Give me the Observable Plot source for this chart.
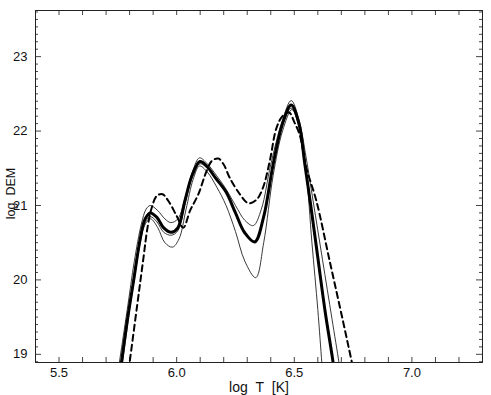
<!DOCTYPE html>
<html>
<head>
<meta charset="utf-8">
<script src="https://cdn.jsdelivr.net/npm/d3@7"></script>
<script src="https://cdn.jsdelivr.net/npm/@observablehq/plot@0.6"></script>
<style>
  html, body { margin: 0; padding: 0; background: #fff; }
  #chart svg { display: block; }
</style>
</head>
<body>
<div id="chart"></div>
<script>
// ---- Data ----
// main solution (thick solid)
const mainT   = [5.755, 5.79, 5.817, 5.845, 5.866, 5.888, 5.916, 5.945, 5.977, 6.005, 6.035, 6.065, 6.099, 6.13, 6.165, 6.21, 6.25, 6.29, 6.332, 6.37, 6.41, 6.45, 6.487, 6.52, 6.545, 6.57, 6.6, 6.63, 6.665, 6.675];
const mainDEM = [18.65, 19.45, 19.99, 20.55, 20.82, 20.9, 20.84, 20.7, 20.64, 20.7, 21.06, 21.4, 21.59, 21.52, 21.37, 21.18, 20.9, 20.63, 20.51, 20.85, 21.55, 22.1, 22.35, 22.1, 21.55, 21.0, 20.3, 19.6, 18.89, 18.65];
// middle thin solution (close to the main one)
const midDEM  = [18.65, 19.42, 19.95, 20.5, 20.77, 20.85, 20.78, 20.64, 20.6, 20.66, 21.02, 21.37, 21.56, 21.5, 21.36, 21.17, 20.9, 20.63, 20.52, 20.86, 21.55, 22.08, 22.31, 22.08, 21.55, 21.0, 20.3, 19.6, 18.89, 18.65];
// upper thin solution
const upperT   = [5.745, 5.79, 5.82, 5.85, 5.87, 5.888, 5.92, 5.95, 5.975, 6.005, 6.04, 6.07, 6.097, 6.13, 6.17, 6.21, 6.25, 6.29, 6.326, 6.36, 6.4, 6.45, 6.487, 6.52, 6.55, 6.58, 6.62, 6.66, 6.69, 6.70];
const upperDEM = [18.65, 19.6, 20.25, 20.75, 20.95, 21.0, 20.93, 20.82, 20.77, 20.82, 21.15, 21.48, 21.64, 21.56, 21.4, 21.22, 21.0, 20.8, 20.73, 20.95, 21.55, 22.15, 22.41, 22.15, 21.65, 21.06, 20.27, 19.48, 18.89, 18.68];
// lower thin solution
const lowerT   = [5.76, 5.80, 5.83, 5.86, 5.875, 5.89, 5.92, 5.95, 5.982, 6.01, 6.04, 6.07, 6.097, 6.13, 6.17, 6.21, 6.25, 6.29, 6.336, 6.37, 6.41, 6.45, 6.49, 6.52, 6.55, 6.575, 6.6, 6.617, 6.623];
const lowerDEM = [18.65, 19.6, 20.3, 20.7, 20.79, 20.82, 20.7, 20.5, 20.44, 20.55, 20.95, 21.35, 21.53, 21.45, 21.25, 21.0, 20.65, 20.25, 20.03, 20.5, 21.4, 22.0, 22.29, 22.05, 21.45, 20.5, 19.6, 18.89, 18.65];
// dashed comparison curve
const dashT   = [5.79, 5.831, 5.859, 5.876, 5.894, 5.916, 5.94, 5.965, 6.0, 6.028, 6.057, 6.092, 6.127, 6.15, 6.177, 6.2, 6.226, 6.269, 6.305, 6.34, 6.367, 6.396, 6.424, 6.45, 6.478, 6.5, 6.523, 6.551, 6.594, 6.65, 6.706, 6.745, 6.76];
const dashDEM = [18.65, 19.63, 20.3, 20.7, 20.97, 21.13, 21.15, 21.06, 20.86, 20.70, 20.93, 21.15, 21.46, 21.6, 21.63, 21.55, 21.37, 21.15, 21.03, 21.08, 21.24, 21.6, 22.04, 22.2, 22.25, 22.12, 21.95, 21.51, 21.06, 20.26, 19.46, 18.89, 18.67];

// axis ticks / labels
const xTickLabels = [5.5, 6.0, 6.5, 7.0];
const yTickLabels = [19, 20, 21, 22, 23];
const xDomain = [5.4, 7.3];
const yDomain = [18.89, 23.62];
const xTitle = "log\u00a0\u00a0T\u00a0\u00a0[K]";
const yTitle = "log\u00a0\u00a0DEM";

// ---- build tables ----
const zip = (xs, ys) => xs.map((x, i) => ({T: x, DEM: ys[i]}));
const mainRows  = zip(mainT, mainDEM);
const midRows   = zip(mainT, midDEM);
const upperRows = zip(upperT, upperDEM);
const lowerRows = zip(lowerT, lowerDEM);
const dashRows  = zip(dashT, dashDEM);

const W = 491, H = 395;
const mL = 35, mR = 9, mT = 10, mB = 33;
const innerW = W - mL - mR, innerH = H - mT - mB;

const xMinor = d3.range(55, 73).map(d => d / 10);
const yAll = d3.range(189, 237).map(d => d / 10);
const yMajor = yAll.filter(d => Math.abs(d - Math.round(d)) < 1e-6);
const yMinor = yAll.filter(d => Math.abs(d - Math.round(d)) >= 1e-6);

const tickColor = "#444";
const lineOpts = {x: "T", y: "DEM", curve: "catmull-rom", clip: true};

const chart = Plot.plot({
  width: W, height: H,
  marginLeft: mL, marginRight: mR, marginTop: mT, marginBottom: mB,
  x: {domain: xDomain},
  y: {domain: yDomain},
  style: {fontFamily: "'Liberation Sans', Arial, Helvetica, sans-serif", fontSize: "13px", color: "#111", background: "#fff"},
  marks: [
    // inward minor/major ticks
    Plot.tickX(xMinor, {x: d => d, insetTop: innerH - 5, stroke: tickColor}),
    Plot.tickX(xMinor, {x: d => d, insetBottom: innerH - 5, stroke: tickColor}),
    Plot.tickY(yMinor, {y: d => d, insetRight: innerW - 3, stroke: tickColor}),
    Plot.tickY(yMajor, {y: d => d, insetRight: innerW - 6, stroke: tickColor}),
    Plot.tickY(yMinor, {y: d => d, insetLeft: innerW - 3, stroke: tickColor}),
    Plot.tickY(yMajor, {y: d => d, insetLeft: innerW - 6, stroke: tickColor}),
    // tick labels
    Plot.axisX({ticks: xTickLabels, tickSize: 0, tickPadding: 5, tickFormat: d => d.toFixed(1), label: null, fontSize: 13}),
    Plot.axisY({ticks: yTickLabels, tickSize: 0, tickPadding: 8, tickFormat: d => String(d), label: null, fontSize: 13}),
    // curves
    Plot.line(upperRows, {...lineOpts, stroke: "#222", strokeWidth: 0.9}),
    Plot.line(lowerRows, {...lineOpts, stroke: "#222", strokeWidth: 0.9}),
    Plot.line(midRows,   {...lineOpts, stroke: "#222", strokeWidth: 0.9}),
    Plot.line(dashRows,  {...lineOpts, stroke: "#000", strokeWidth: 2, strokeDasharray: "6,4"}),
    Plot.line(mainRows,  {...lineOpts, stroke: "#000", strokeWidth: 3}),
    // frame
    Plot.frame({stroke: "#222", strokeWidth: 1}),
    // axis titles
    Plot.text([xTitle], {frameAnchor: "bottom", textAnchor: "middle", lineAnchor: "bottom", dy: 29, fontSize: 14, fill: "#111"}),
    Plot.text([yTitle], {frameAnchor: "left", textAnchor: "middle", lineAnchor: "middle", dx: -25, dy: 7, rotate: -90, fontSize: 12.5, fill: "#111"})
  ]
});

document.getElementById("chart").appendChild(chart);
</script>
</body>
</html>
